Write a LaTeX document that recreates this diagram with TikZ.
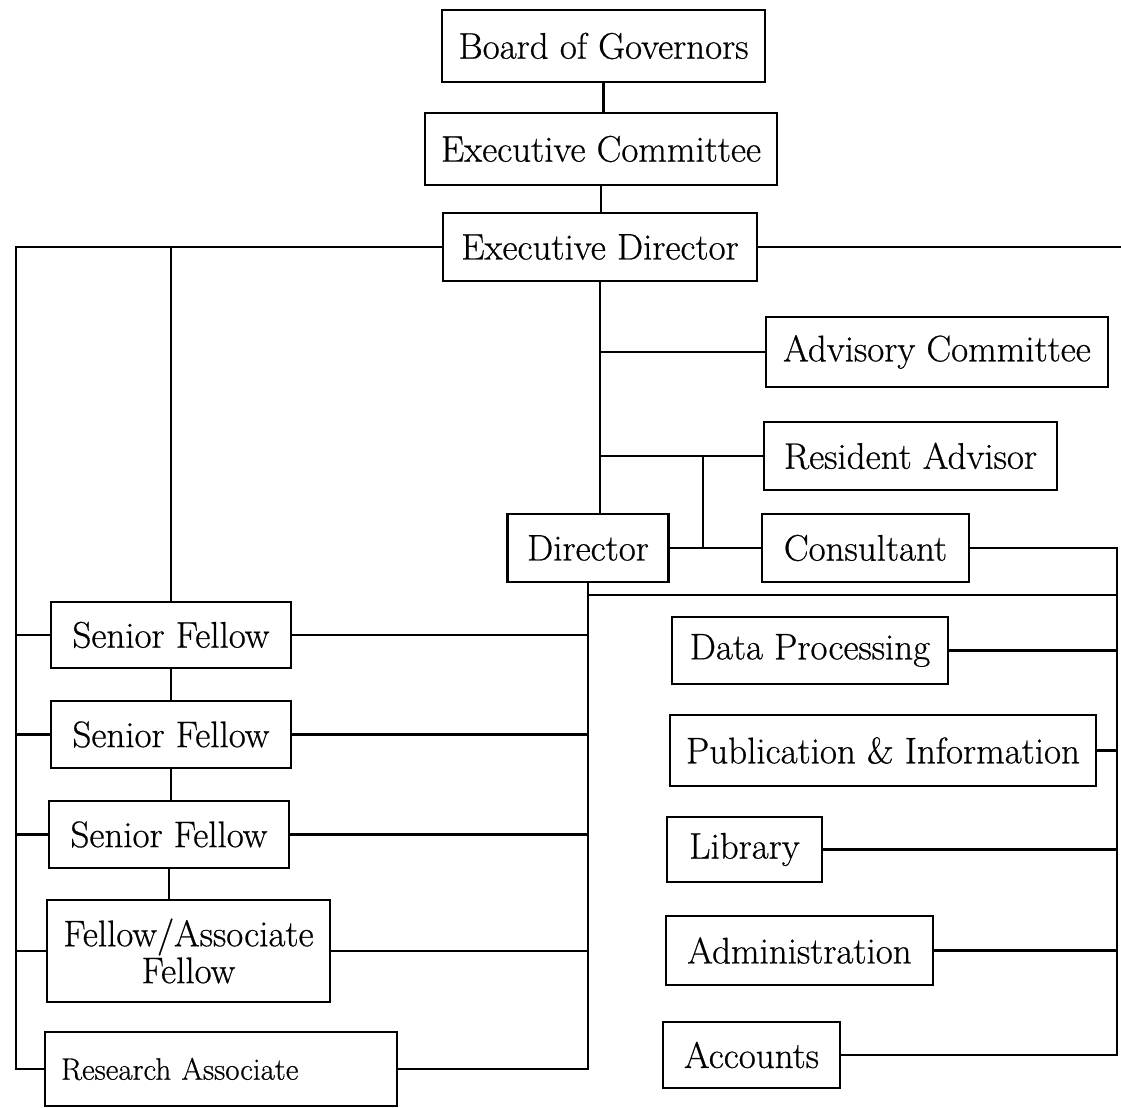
\documentclass[tikz,border=0pt]{standalone}
\usepackage{fontspec}
\newfontfamily\boxfont{Latin Modern Roman}[FakeBold=0.6]
\usetikzlibrary{calc}
\begin{document}
\begin{tikzpicture}[x=0.5pt,y=-0.5pt,
  box/.style={draw,line width=1.3pt,inner sep=0pt,font=\boxfont\fontsize{18.5}{16.5}\selectfont,align=center},
  conn/.style={line width=1.3pt}]
\useasboundingbox (0,0) rectangle (1121,1108);
% top chain
\node[box,minimum width=161.5pt,minimum height=36pt] (bog) at (603.5,46) {Board of Governors};
\node[box,minimum width=176pt,minimum height=36pt] (ec) at (601,149) {Executive Committee};
\node[box,minimum width=157pt,minimum height=34pt] (ed) at (600,247) {Executive Director};
% right upper
\node[box,minimum width=171pt,minimum height=35pt] (ac) at (937,352) {Advisory Committee};
\node[box,minimum width=146.5pt,minimum height=34pt] (ra) at (910.5,456) {Resident Advisor};
\node[box,minimum width=80.5pt,minimum height=34pt] (dir) at (588,548) {Director};
\node[box,minimum width=103.5pt,minimum height=34pt] (cons) at (865.5,548) {Consultant};
% right lower
\node[box,minimum width=138pt,minimum height=33.5pt] (dp) at (810,650.5) {Data Processing};
\node[box,minimum width=213pt,minimum height=35.5pt] (pi) at (883,750.5) {Publication \& Information};
\node[box,minimum width=77.5pt,minimum height=32.5pt] (lib) at (744.5,849.5) {Library};
\node[box,minimum width=133.5pt,minimum height=34.5pt] (adm) at (799.5,950.5) {Administration};
\node[box,minimum width=88.5pt,minimum height=33pt] (acc) at (751.5,1055) {Accounts};
% left group
\node[box,minimum width=120pt,minimum height=33pt] (sf1) at (171,635) {Senior Fellow};
\node[box,minimum width=120pt,minimum height=33.5pt] (sf2) at (171,734.5) {Senior Fellow};
\node[box,minimum width=120pt,minimum height=33.5pt] (sf3) at (169,834.5) {Senior Fellow};
\node[box,minimum width=141.5pt,minimum height=51pt] (faf) at (188.5,951) {Fellow/Associate\\Fellow};
\node[box,minimum height=37pt,text width=160pt,inner xsep=8pt,align=left,font=\boxfont\fontsize{15.5}{16}\selectfont] (resa) at (221,1069) {Research Associate};
% free ends
\coordinate (ltop) at (16,247);
\coordinate (lbot) at (16,1069);
\coordinate (mbot) at (588,1069);
\coordinate (hj) at (588,595);
\coordinate (hr) at (1117,595);
\coordinate (rtop) at (1117,548);
\coordinate (rbot) at (1117,1055);
\coordinate (edr) at (1121,247);
\coordinate (sv) at (703,500);
% top chain connectors
\draw[conn] (bog.south) -- (bog.south |- ec.north);
\draw[conn] (ec.south) -- (ec.south |- ed.north);
\draw[conn] (ed.east) -- (edr);
% left bus
\draw[conn] (ed.west) -- (ltop) -- (lbot) -- (resa.west);
\draw[conn] (sf1.west) -- (sf1.west -| ltop);
\draw[conn] (sf2.west) -- (sf2.west -| ltop);
\draw[conn] (sf3.west) -- (sf3.west -| ltop);
\draw[conn] (faf.west) -- (faf.west -| ltop);
\draw[conn] (sf1.north) -- (sf1.north |- ed.west);
\draw[conn] (sf1.south) -- (sf1.south |- sf2.north);
\draw[conn] (sf2.south) -- (sf2.south |- sf3.north);
\draw[conn] (sf3.south) -- (sf3.south |- faf.north);
% trunk
\draw[conn] (ed.south) -- (ed.south |- dir.north);
\draw[conn] (ed.south |- ac.west) -- (ac.west);
\draw[conn] (ed.south |- ra.west) -- (ra.west);
\draw[conn] (sv |- ra.west) -- (sv |- dir.east);
\draw[conn] (dir.east) -- (cons.west);
% middle bus
\draw[conn] (dir.south) -- (mbot) -- (resa.east);
\draw[conn] (sf1.east) -- (sf1.east -| mbot);
\draw[conn] (sf2.east) -- (sf2.east -| mbot);
\draw[conn] (sf3.east) -- (sf3.east -| mbot);
\draw[conn] (faf.east) -- (faf.east -| mbot);
\draw[conn] (hj) -- (hr);
% right bus
\draw[conn] (cons.east) -- (rtop) -- (rbot) -- (acc.east);
\draw[conn] (dp.east) -- (dp.east -| rtop);
\draw[conn] (pi.east) -- (pi.east -| rtop);
\draw[conn] (lib.east) -- (lib.east -| rtop);
\draw[conn] (adm.east) -- (adm.east -| rtop);
\end{tikzpicture}
\end{document}
